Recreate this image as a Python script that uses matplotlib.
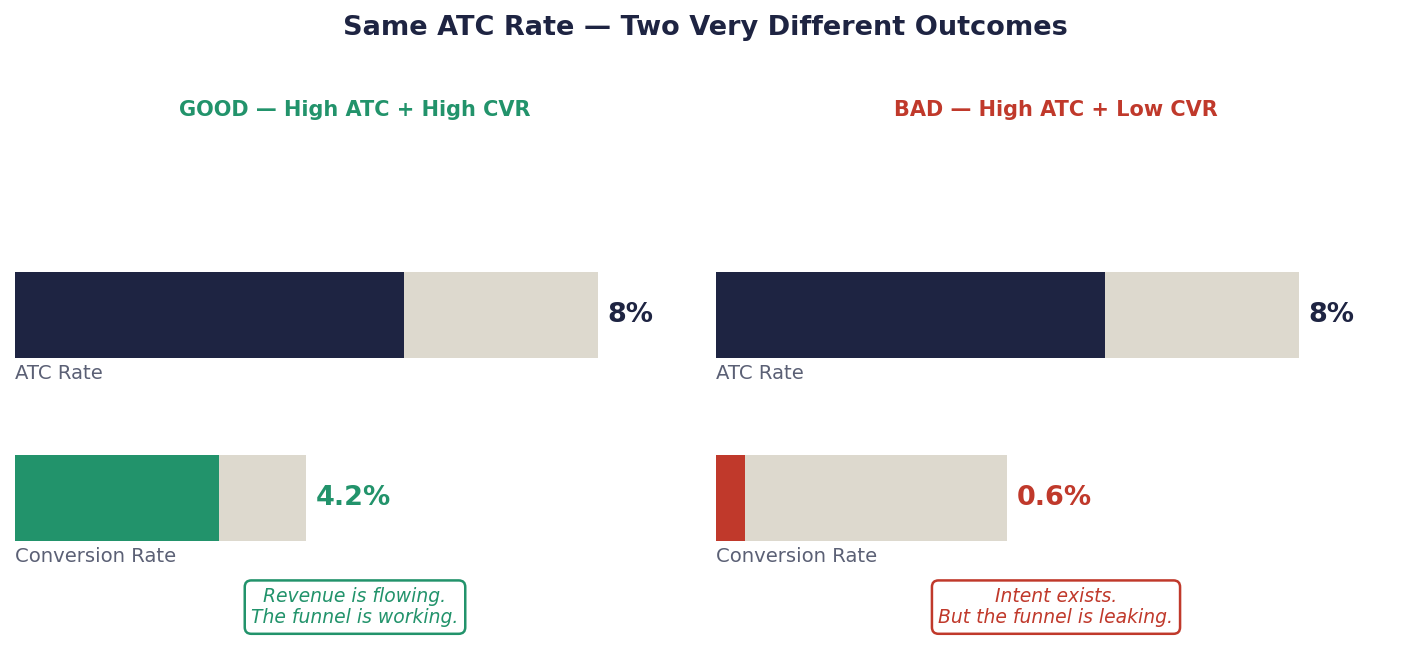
import matplotlib.pyplot as plt

# data
panel_titles = ["GOOD — High ATC + High CVR", "BAD — High ATC + Low CVR"]
atc_rate = [8, 8]
cvr_rate = [4.2, 0.6]
atc_scale = 12
cvr_scale = 6
metric_labels = ["ATC Rate", "Conversion Rate"]
notes = ["Revenue is flowing.\nThe funnel is working.",
         "Intent exists.\nBut the funnel is leaking."]

NAVY = "#1e2442"
GREEN = "#22936b"
RED = "#c0392b"
TRACK = "#ddd9ce"
GREY = "#5b6075"
accents = [GREEN, RED]

W, H = 1410, 650
fig = plt.figure(figsize=(W / 100, H / 100), dpi=100)

fig.text(0.5, 1 - 28 / H, "Same ATC Rate — Two Very Different Outcomes",
         ha="center", va="center", fontsize=19.5, fontweight="bold", color=NAVY)

lefts = [15, 716]
ax_w = 680
top, bottom = 125, 645
bh = 0.475

for i in range(2):
    ax = fig.add_axes([lefts[i] / W, 1 - bottom / H, ax_w / W, (bottom - top) / H])
    ax.set_xlim(0, 14)
    ax.set_ylim(-0.803, 2.038)
    ax.axis("off")

    rows = [(1, atc_rate[i], atc_scale, NAVY, metric_labels[0]),
            (0, cvr_rate[i], cvr_scale, accents[i], metric_labels[1])]
    for y, val, scale, col, lab in rows:
        ax.barh(y, scale, height=bh, color=TRACK, left=0)
        ax.barh(y, val, height=bh, color=col, left=0)
        ax.text(scale + 0.2, y, f"{val:g}%", ha="left", va="center",
                fontsize=19.5, fontweight="bold", color=col)
        ax.text(0, y - bh / 2 - 0.03, lab, ha="left", va="top",
                fontsize=14.1, color=GREY)

    ax.text(7, -0.596, notes[i], ha="center", va="center", fontsize=13.5,
            style="italic", color=accents[i], linespacing=1.15,
            bbox=dict(boxstyle="round,pad=0.35", fc="white", ec=accents[i], lw=1.8))

    fig.text((lefts[i] + ax_w / 2) / W, 1 - 110 / H, panel_titles[i],
             ha="center", va="center", fontsize=15, fontweight="bold",
             color=accents[i])

fig.savefig("out.png", dpi=100)
